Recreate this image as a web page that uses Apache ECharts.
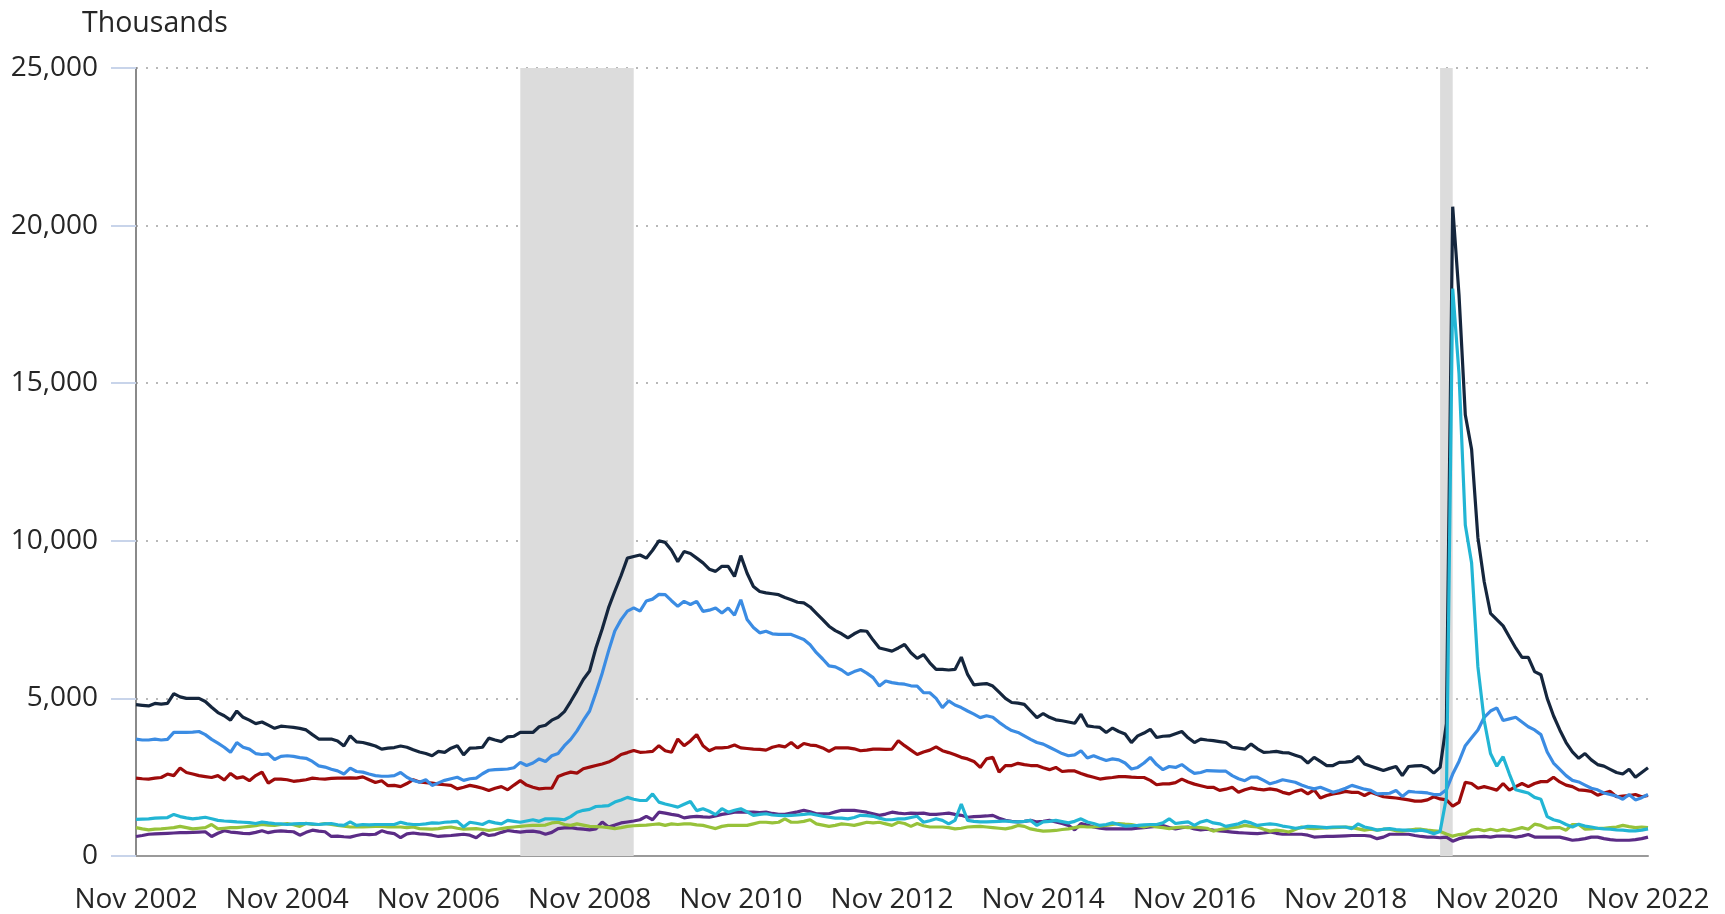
<!DOCTYPE html>
<html>
<head>
<meta charset="utf-8">
<script src="https://cdn.jsdelivr.net/npm/echarts@6/dist/echarts.min.js"></script>
<style>
  html, body { margin: 0; padding: 0; background: #fff; }
  #chart { width: 1725px; height: 914px; }
</style>
</head>
<body>
<div id="chart"></div>
<script>
// months from Nov 2002 to Nov 2022
var monthNames = ['Jan','Feb','Mar','Apr','May','Jun','Jul','Aug','Sep','Oct','Nov','Dec'];
var months = [];
for (var i = 0; i <= 240; i++) {
    var mi = (10 + i) % 12;
    var yr = 2002 + Math.floor((10 + i) / 12);
    months.push(monthNames[mi] + ' ' + yr);
}

// recession periods (shaded)
var recessions = [['Dec 2007', 'Jun 2009'], ['Feb 2020', 'Apr 2020']];

// job losers, total (thousands)
var jobLosers = [
    4800, 4780, 4760, 4840, 4820, 4840, 5150, 5050, 5000, 5000, 5000, 4900,
    4720, 4550, 4450, 4310, 4600, 4400, 4310, 4200, 4250, 4150, 4050, 4120,
    4100, 4080, 4050, 4000, 3850, 3710, 3710, 3710, 3650, 3490, 3810, 3620,
    3600, 3550, 3490, 3390, 3420, 3440, 3490, 3450, 3370, 3300, 3250, 3180,
    3320, 3290, 3420, 3500, 3210, 3420, 3430, 3450, 3740, 3680, 3630, 3780,
    3800, 3920, 3920, 3920, 4100, 4150, 4310, 4400, 4580, 4900, 5240, 5600,
    5870, 6600, 7200, 7870, 8400, 8900, 9450, 9500, 9550, 9450, 9700, 10000,
    9950, 9700, 9340, 9660, 9600, 9450, 9300, 9100, 9030, 9190, 9190, 8870,
    9530, 8970, 8550, 8390, 8350, 8320, 8290, 8200, 8130, 8050, 8030, 7900,
    7700, 7500, 7290, 7150, 7050, 6920, 7050, 7150, 7130, 6850, 6600, 6550,
    6500, 6600, 6710, 6450, 6270, 6390, 6130, 5920, 5920, 5900, 5920, 6310,
    5760, 5430, 5450, 5470, 5390, 5200, 5000, 4870, 4850, 4810, 4600, 4390,
    4520, 4400, 4320, 4290, 4250, 4210, 4500, 4130, 4100, 4080, 3920, 4060,
    3950, 3870, 3600, 3810, 3900, 4020, 3760, 3800, 3810, 3880, 3950, 3750,
    3600, 3710, 3680, 3660, 3630, 3600, 3450, 3420, 3390, 3550, 3400, 3290,
    3300, 3320, 3280, 3270, 3200, 3130, 2950, 3130, 3000, 2870, 2870, 2970,
    2980, 3000, 3160, 2920, 2850, 2780, 2710, 2780, 2840, 2550, 2840, 2860,
    2870, 2800, 2630, 2810, 4200, 20600, 17800, 14000, 12900, 10100, 8700, 7700,
    7500, 7300, 6950, 6600, 6300, 6300, 5850, 5750, 5000, 4450, 4000, 3600,
    3300, 3100, 3250, 3050, 2900, 2850, 2750, 2650, 2600, 2750, 2500, 2650, 2800
];

// job losers not on temporary layoff
var notTempLayoff = [
    3710, 3680, 3680, 3710, 3680, 3700, 3920, 3920, 3920, 3930, 3950, 3850,
    3700, 3580, 3450, 3290, 3600, 3450, 3390, 3250, 3220, 3240, 3060, 3160,
    3180, 3160, 3120, 3100, 3000, 2860, 2820, 2750, 2700, 2600, 2790, 2680,
    2660, 2600, 2550, 2530, 2530, 2550, 2650, 2500, 2400, 2340, 2420, 2240,
    2320, 2400, 2450, 2500, 2400, 2450, 2470, 2610, 2720, 2740, 2750, 2760,
    2800, 2970, 2870, 2950, 3080, 3000, 3180, 3250, 3500, 3700, 3970, 4300,
    4600, 5180, 5800, 6500, 7140, 7500, 7770, 7870, 7770, 8090, 8150, 8300,
    8290, 8100, 7920, 8080, 7980, 8080, 7760, 7800, 7870, 7710, 7870, 7640,
    8130, 7500, 7250, 7080, 7130, 7050, 7030, 7030, 7030, 6950, 6870, 6700,
    6450, 6250, 6030, 6000, 5900, 5760, 5850, 5920, 5800, 5660, 5390, 5550,
    5500, 5470, 5450, 5400, 5390, 5180, 5180, 5000, 4710, 4920, 4790, 4710,
    4600, 4500, 4390, 4450, 4400, 4240, 4100, 3980, 3920, 3810, 3700, 3600,
    3550, 3450, 3350, 3250, 3180, 3210, 3340, 3110, 3180, 3100, 3030, 3080,
    3050, 2950, 2760, 2810, 2950, 3130, 2900, 2740, 2840, 2810, 2900, 2750,
    2620, 2650, 2710, 2700, 2690, 2690, 2550, 2450, 2390, 2500, 2500, 2400,
    2290, 2350, 2420, 2380, 2340, 2250, 2180, 2130, 2180, 2100, 2020, 2080,
    2150, 2240, 2180, 2120, 2080, 1970, 1980, 1990, 2080, 1890, 2050, 2030,
    2020, 2000, 1950, 1950, 2100, 2600, 3000, 3500, 3750, 4000, 4400, 4600,
    4700, 4300, 4350, 4400, 4250, 4100, 4000, 3850, 3300, 2950, 2750, 2550,
    2400, 2350, 2250, 2150, 2100, 2000, 1950, 1900, 1800, 1950, 1780, 1850, 1950
];

// job losers on temporary layoff
var tempLayoff = [
    1160, 1170, 1180, 1200, 1210, 1220, 1320, 1250, 1210, 1180, 1200, 1230,
    1180, 1130, 1110, 1100, 1080, 1070, 1060, 1030, 1080, 1050, 1030, 1020,
    1000, 1020, 1030, 1030, 1020, 1000, 1020, 1030, 990, 970, 1080, 970,
    1000, 990, 1000, 1000, 1000, 1000, 1070, 1020, 1000, 1000, 1020, 1050,
    1040, 1070, 1080, 1100, 920, 1070, 1040, 1000, 1100, 1050, 1020, 1130,
    1100, 1070, 1110, 1150, 1100, 1180, 1180, 1170, 1150, 1250, 1390, 1450,
    1480, 1570, 1580, 1600, 1710, 1780, 1860, 1800, 1760, 1760, 1970, 1710,
    1650, 1600, 1550, 1640, 1730, 1440, 1500, 1420, 1310, 1500, 1390, 1450,
    1500, 1400, 1290, 1320, 1340, 1300, 1290, 1280, 1290, 1300, 1320, 1340,
    1300, 1260, 1230, 1200, 1200, 1180, 1220, 1290, 1280, 1260, 1200, 1150,
    1150, 1180, 1180, 1220, 1260, 1070, 1120, 1180, 1130, 1020, 1130, 1650,
    1130, 1100, 1080, 1080, 1090, 1100, 1110, 1090, 1080, 1100, 1130, 970,
    1080, 1100, 1130, 1090, 1050, 1100, 1180, 1080, 1030, 970, 1000, 1050,
    1000, 950, 960, 970, 990, 1000, 1000, 1050, 1180, 1030, 1060, 1080,
    970, 1080, 1130, 1050, 1020, 940, 980, 1020, 1100, 1050, 970, 1000,
    1020, 1000, 950, 920, 880, 900, 940, 930, 920, 900, 920, 920,
    920, 870, 1020, 920, 880, 820, 850, 870, 840, 820, 820, 800,
    820, 780, 710, 780, 1850, 18000, 15300, 10500, 9300, 6000, 4300, 3250,
    2850, 3150, 2600, 2100, 2050, 2000, 1860, 1800, 1250, 1150, 1100, 1000,
    920, 1010, 950, 920, 880, 860, 850, 830, 820, 800, 800, 820, 860
];

// reentrants
var reentrants = [
    2470, 2450, 2440, 2470, 2490, 2600, 2550, 2790, 2650, 2600, 2550, 2520,
    2490, 2550, 2410, 2620, 2470, 2510, 2390, 2550, 2660, 2310, 2440, 2440,
    2420, 2370, 2390, 2420, 2470, 2450, 2440, 2460, 2470, 2470, 2480, 2470,
    2510, 2420, 2330, 2390, 2230, 2240, 2200, 2300, 2420, 2350, 2330, 2310,
    2280, 2260, 2240, 2130, 2180, 2240, 2200, 2150, 2080, 2150, 2200, 2100,
    2250, 2390, 2250, 2180, 2130, 2150, 2150, 2520, 2600, 2660, 2630, 2770,
    2820, 2870, 2920, 2980, 3080, 3220, 3280, 3350, 3290, 3300, 3320, 3500,
    3340, 3290, 3710, 3500, 3650, 3850, 3500, 3340, 3430, 3430, 3450, 3520,
    3430, 3410, 3390, 3380, 3360, 3450, 3500, 3460, 3600, 3430, 3570, 3520,
    3500, 3430, 3320, 3430, 3430, 3430, 3400, 3340, 3360, 3390, 3390, 3380,
    3390, 3660, 3500, 3360, 3220, 3300, 3360, 3460, 3340, 3280, 3210, 3130,
    3080, 3000, 2810, 3080, 3130, 2660, 2870, 2870, 2940, 2900, 2870, 2870,
    2800, 2740, 2810, 2680, 2700, 2700, 2620, 2550, 2500, 2440, 2470, 2490,
    2520, 2520, 2500, 2490, 2490, 2400, 2260, 2290, 2290, 2330, 2440, 2350,
    2280, 2230, 2180, 2180, 2080, 2120, 2180, 2020, 2100, 2160, 2120, 2100,
    2130, 2100, 2020, 1970, 2050, 2100, 1970, 2100, 1840, 1920, 1970, 2000,
    2050, 2020, 2020, 1920, 2020, 1950, 1880, 1860, 1840, 1810, 1780, 1740,
    1740, 1780, 1880, 1810, 1780, 1580, 1700, 2340, 2300, 2150, 2200, 2150,
    2090, 2300, 2090, 2200, 2300, 2200, 2300, 2360, 2360, 2500, 2350, 2250,
    2200, 2100, 2080, 2050, 1930, 2000, 2050, 1880, 1900, 1920, 1950, 1880, 1920
];

// job leavers
var jobLeavers = [
    900, 860, 830, 850, 860, 880, 900, 940, 900, 860, 880, 900,
    1000, 860, 880, 900, 900, 920, 940, 960, 1000, 980, 970, 1000,
    1030, 990, 940, 1040, 1000, 1000, 1030, 1000, 970, 950, 920, 920,
    920, 930, 940, 940, 920, 920, 920, 900, 920, 870, 860, 850,
    870, 900, 920, 880, 850, 860, 870, 840, 810, 840, 870, 900,
    920, 940, 960, 970, 970, 980, 1050, 1070, 1000, 970, 1020, 980,
    940, 930, 920, 900, 870, 900, 940, 960, 970, 980, 1000, 1020,
    970, 1020, 1000, 1020, 1020, 990, 970, 920, 870, 940, 970, 970,
    970, 970, 1020, 1070, 1070, 1050, 1070, 1180, 1070, 1070, 1100, 1150,
    1020, 980, 940, 970, 1020, 1000, 970, 1020, 1070, 1050, 1070, 1020,
    970, 1070, 1030, 940, 1030, 960, 920, 920, 920, 900, 860, 880,
    920, 930, 940, 920, 900, 880, 860, 900, 970, 940, 860, 820,
    790, 800, 810, 840, 860, 900, 940, 920, 920, 950, 970, 1000,
    1030, 1010, 1000, 960, 920, 970, 920, 900, 870, 900, 920, 900,
    920, 900, 880, 790, 840, 870, 900, 920, 970, 940, 920, 850,
    790, 820, 800, 760, 840, 920, 880, 870, 880, 890, 900, 910,
    920, 900, 860, 820, 850, 820, 850, 850, 800, 790, 820, 850,
    850, 820, 800, 780, 700, 630, 680, 700, 820, 850, 800, 850,
    800, 850, 800, 850, 900, 850, 1010, 970, 880, 900, 900, 820,
    1000, 1000, 850, 860, 880, 880, 900, 920, 970, 930, 900, 920, 900
];

// new entrants
var newEntrants = [
    620, 650, 690, 700, 710, 720, 730, 740, 740, 750, 760, 770,
    620, 720, 800, 760, 740, 720, 710, 750, 800, 740, 780, 800,
    780, 770, 660, 750, 820, 790, 770, 620, 630, 610, 600, 650,
    690, 680, 690, 800, 740, 710, 580, 700, 730, 700, 690, 660,
    620, 640, 650, 670, 690, 660, 580, 730, 650, 680, 750, 810,
    780, 760, 780, 790, 760, 690, 750, 870, 890, 900, 870, 850,
    830, 860, 1080, 920, 980, 1050, 1080, 1110, 1150, 1260, 1150, 1390,
    1360, 1320, 1290, 1210, 1240, 1260, 1240, 1230, 1270, 1320, 1350, 1390,
    1390, 1390, 1390, 1380, 1390, 1350, 1320, 1320, 1360, 1400, 1450, 1400,
    1340, 1340, 1340, 1400, 1450, 1450, 1450, 1420, 1390, 1340, 1290, 1330,
    1390, 1360, 1340, 1360, 1350, 1360, 1320, 1320, 1340, 1360, 1320, 1290,
    1230, 1250, 1260, 1270, 1290, 1200, 1130, 1100, 1080, 1100, 1130, 1080,
    1100, 1130, 1080, 1030, 970, 830, 1030, 980, 920, 880, 860, 860,
    860, 860, 860, 880, 900, 920, 940, 970, 900, 860, 900, 920,
    860, 830, 850, 820, 800, 780, 760, 740, 730, 720, 710, 730,
    760, 720, 690, 690, 690, 690, 660, 600, 610, 620, 620, 630,
    640, 650, 650, 650, 630, 550, 600, 690, 690, 690, 690, 650,
    620, 600, 600, 580, 600, 470, 550, 600, 600, 610, 620, 600,
    630, 630, 630, 600, 630, 680, 600, 600, 600, 600, 600, 550,
    500, 520, 550, 600, 600, 550, 520, 500, 500, 500, 520, 550, 600
];

var myChart = echarts.init(document.getElementById('chart'), null, {renderer: 'canvas'});

var textColor = '#262626';
var fontFam = '"Open Sans", "Noto Sans", sans-serif';

function lineSeries(name, data, color) {
    return {
        name: name,
        type: 'line',
        data: data,
        symbol: 'none',
        z: 3,
        lineStyle: { width: 3.2, color: color },
        itemStyle: { color: color }
    };
}

option = {
    animation: false,
    backgroundColor: '#fff',
    title: {
        text: 'Thousands',
        left: 77,
        top: 4,
        textStyle: { fontFamily: fontFam, fontSize: 28.5, fontWeight: 'normal', color: textColor }
    },
    grid: { left: 136, right: 77, top: 68, bottom: 56 },
    xAxis: {
        type: 'category',
        data: months,
        boundaryGap: false,
        axisLine: { lineStyle: { color: '#9a9a9a', width: 2 } },
        axisTick: { show: false },
        axisLabel: {
            interval: 23,
            margin: 30,
            fontFamily: fontFam,
            fontSize: 28,
            color: textColor,
            showMaxLabel: true
        },
        splitLine: { show: false }
    },
    yAxis: {
        type: 'value',
        min: 0,
        max: 25000,
        interval: 5000,
        axisLine: { show: true, lineStyle: { color: '#8a8a8a', width: 2 } },
        axisTick: { show: true, length: 25, lineStyle: { color: '#c8d4ea', width: 2 } },
        axisLabel: {
            margin: 38,
            padding: [14, 0, 0, 0],
            fontFamily: fontFam,
            fontSize: 28,
            color: textColor,
            formatter: function (v) { return v.toLocaleString('en-US'); }
        },
        splitLine: { show: true, lineStyle: { color: '#b8b8b8', width: 2, type: [2, 8] } }
    },
    series: [
        {
            name: 'Recession',
            type: 'line',
            data: [],
            z: 1,
            silent: true,
            markArea: {
                silent: true,
                itemStyle: { color: '#dcdcdc' },
                data: recessions.map(function (r) { return [{ xAxis: r[0] }, { xAxis: r[1] }]; })
            }
        },
        lineSeries('New entrants', newEntrants, '#5b2c86'),
        lineSeries('Job leavers', jobLeavers, '#97c23a'),
        lineSeries('Reentrants', reentrants, '#9e0b0b'),
        lineSeries('Not on temporary layoff', notTempLayoff, '#3b8ce3'),
        lineSeries('Job losers', jobLosers, '#15263d'),
        lineSeries('On temporary layoff', tempLayoff, '#22b5d4')
    ]
};

myChart.setOption(option);
</script>
</body>
</html>
